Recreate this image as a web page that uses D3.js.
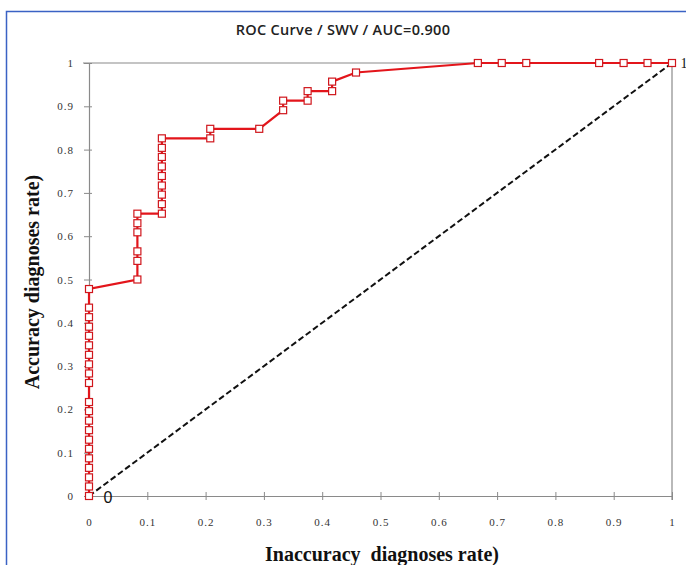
<!DOCTYPE html>
<html>
<head>
<meta charset="utf-8">
<script src="https://cdn.jsdelivr.net/npm/d3@7"></script>
<style>
  html, body { margin: 0; padding: 0; background: #fff; }
  svg { display: block; }
</style>
</head>
<body>
<svg id="chart" width="686" height="565"></svg>
<script>
// ---- data ----
const titleText = "ROC Curve / SWV / AUC=0.900";
const xLabel = "Inaccuracy  diagnoses rate)";
const yLabel = "Accuracy diagnoses rate)";
const tickValues = [0, 0.1, 0.2, 0.3, 0.4, 0.5, 0.6, 0.7, 0.8, 0.9, 1];
// false positive rate (x) of each ROC point
const fpr = [
  0, 0, 0, 0, 0, 0, 0, 0, 0, 0, 0, 0, 0, 0, 0, 0, 0, 0, 0, 0, 0,
  0.083, 0.083, 0.083, 0.083, 0.083, 0.083,
  0.125, 0.125, 0.125, 0.125, 0.125, 0.125, 0.125, 0.125, 0.125,
  0.208, 0.208, 0.292, 0.333, 0.333, 0.375, 0.375, 0.417, 0.417, 0.458,
  0.667, 0.708, 0.75, 0.875, 0.917, 0.958, 1
];
// true positive rate (y) of each ROC point
const tpr = [
  0, 0.022, 0.043, 0.065, 0.087, 0.109, 0.130, 0.152, 0.174, 0.196, 0.217,
  0.261, 0.283, 0.304, 0.326, 0.348, 0.370, 0.391, 0.413, 0.435, 0.478,
  0.5, 0.543, 0.565, 0.609, 0.630, 0.652,
  0.652, 0.674, 0.696, 0.717, 0.739, 0.761, 0.783, 0.804, 0.826,
  0.826, 0.848, 0.848, 0.891, 0.913, 0.913, 0.935, 0.935, 0.957, 0.978,
  1, 1, 1, 1, 1, 1, 1
];
const diagonal = [[0, 0], [1, 1]];

// ---- drawing ----
const svg = d3.select("#chart");
const x = d3.scaleLinear().domain([0, 1]).range([89, 672]);
const y = d3.scaleLinear().domain([0, 1]).range([496, 63]);

// outer blue frame (extends beyond the picture on right/bottom)
svg.append("rect")
  .attr("x", 6.5).attr("y", 11.5).attr("width", 720).attr("height", 600)
  .attr("fill", "none").attr("stroke", "#3a62c4").attr("stroke-width", 1.5);

// title
svg.append("text")
  .attr("x", 343).attr("y", 35)
  .attr("text-anchor", "middle")
  .attr("font-family", "'Open Sans', sans-serif")
  .attr("font-weight", 600)
  .attr("font-size", 14.5)
  .attr("letter-spacing", "0.3px")
  .attr("fill", "#222")
  .text(titleText);

// plot frame: top and right grey lines
svg.append("line")
  .attr("x1", x(0) - 6).attr("x2", x(1)).attr("y1", y(1)).attr("y2", y(1))
  .attr("stroke", "#8a8a8a").attr("stroke-width", 1.2);
svg.append("line")
  .attr("x1", x(1)).attr("x2", x(1)).attr("y1", y(1)).attr("y2", y(0) + 4)
  .attr("stroke", "#8a8a8a").attr("stroke-width", 1.2);

// axes
const fmt = d => d === 0 ? "0" : d === 1 ? "1" : d3.format(".1f")(d);
const xAxis = d3.axisBottom(x).tickValues(tickValues).tickFormat(fmt)
  .tickSizeInner(4).tickSizeOuter(0).tickPadding(18);
const yAxis = d3.axisLeft(y).tickValues(tickValues).tickFormat(fmt)
  .tickSizeInner(5).tickSizeOuter(0).tickPadding(10);

const gx = svg.append("g").attr("transform", `translate(0,${y(0)})`).call(xAxis);
const gy = svg.append("g").attr("transform", `translate(${x(0)},0)`).call(yAxis);
[gx, gy].forEach(g => {
  g.select(".domain").attr("stroke", "#8a8a8a").attr("stroke-width", 1.2);
  g.selectAll(".tick line").attr("stroke", "#8a8a8a").attr("stroke-width", 1);
  g.selectAll(".tick text")
    .attr("font-family", "'Liberation Serif', serif")
    .attr("font-size", 11)
    .attr("letter-spacing", "1px")
    .attr("fill", "#333");
});
// x ticks cross the axis
gx.selectAll(".tick line").attr("y1", -4).attr("y2", 4);
gy.selectAll(".tick line").attr("x1", 3).attr("x2", -5);

// diagonal reference line
const line = d3.line().x(d => x(d[0])).y(d => y(d[1]));
svg.append("path")
  .datum(diagonal)
  .attr("d", line)
  .attr("fill", "none")
  .attr("stroke", "#111")
  .attr("stroke-width", 2)
  .attr("stroke-dasharray", "6,3");

// ROC curve
const pts = fpr.map((v, i) => [v, tpr[i]]);
svg.append("path")
  .datum(pts)
  .attr("d", line)
  .attr("fill", "none")
  .attr("stroke", "#e3151b")
  .attr("stroke-width", 2.2);

svg.append("g").selectAll("rect")
  .data(pts)
  .join("rect")
  .attr("x", d => x(d[0]) - 3.5)
  .attr("y", d => y(d[1]) - 3.5)
  .attr("width", 7).attr("height", 7)
  .attr("fill", "#fff")
  .attr("stroke", "#d0161c")
  .attr("stroke-width", 1.2);

// end labels
svg.append("text")
  .attr("x", x(0) + 19).attr("y", y(0) + 7)
  .attr("text-anchor", "middle")
  .attr("font-family", "'Liberation Sans', sans-serif")
  .attr("font-size", 16)
  .attr("fill", "#111")
  .text("0");
svg.append("text")
  .attr("x", x(1) + 12).attr("y", y(1) + 5)
  .attr("text-anchor", "middle")
  .attr("font-family", "'Liberation Serif', serif")
  .attr("font-size", 14)
  .attr("fill", "#111")
  .text("1");

// axis titles
svg.append("text")
  .attr("x", 382).attr("y", 561)
  .attr("text-anchor", "middle")
  .attr("font-family", "'Liberation Serif', serif")
  .attr("font-weight", "bold")
  .attr("font-size", 20)
  .attr("fill", "#111")
  .style("white-space", "pre")
  .text(xLabel);
svg.append("text")
  .attr("transform", "translate(39,282) rotate(-90)")
  .attr("text-anchor", "middle")
  .attr("font-family", "'Liberation Serif', serif")
  .attr("font-weight", "bold")
  .attr("font-size", 20)
  .attr("fill", "#111")
  .text(yLabel);
</script>
</body>
</html>
